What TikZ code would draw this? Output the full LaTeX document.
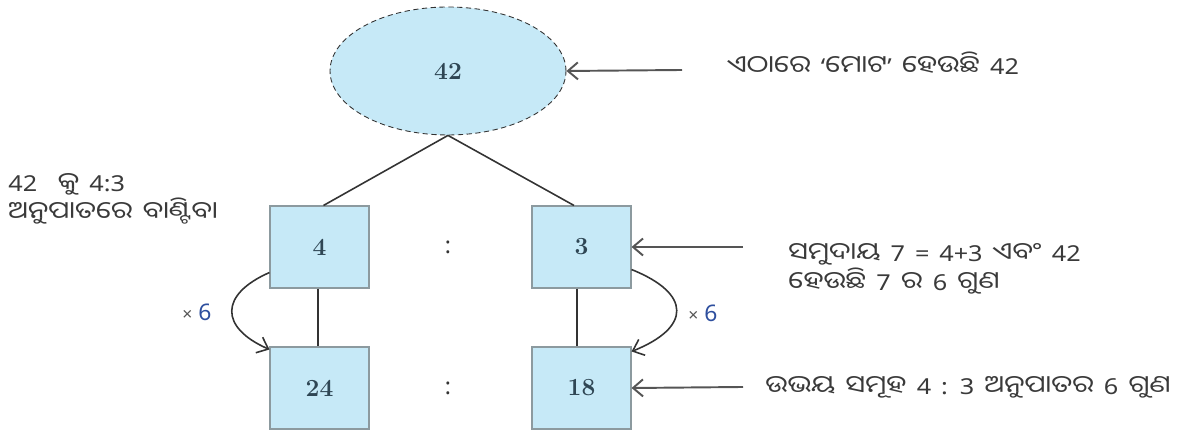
\documentclass[tikz,border=0pt]{standalone}
\usepackage{fontspec}
\newfontfamily\odiafont[Script=Oriya, FakeStretch=1.2, WordSpace=1.4]{Noto Sans Oriya UI}
\newfontfamily\latnfont[FakeStretch=1.15, WordSpace=1.5]{Noto Sans}
\newfontfamily\factorfont{Noto Sans}
\newcommand{\latn}[1]{{\latnfont\fontsize{12.5}{14}\selectfont #1}}
\usepackage{xcolor}
\definecolor{boxBlue}{HTML}{C6E9F7}
\definecolor{boxEdge}{HTML}{8C9A9F}
\definecolor{numText}{HTML}{2F4654}
\definecolor{noteText}{HTML}{3A3A3A}
\definecolor{lineGray}{HTML}{333333}
\definecolor{arrowGray}{HTML}{555555}
\definecolor{factorBlue}{HTML}{2E4F9E}
\usetikzlibrary{
    shapes.geometric,
    arrows.meta,
    positioning,
    calc
}
\tikzset{
    % Base style for the numbers
    number base/.style={
        font=\bfseries\fontsize{14}{16}\selectfont,
        text=numText,
        inner sep=0pt,
    },
    % Whole amount - dashed ellipse
    total ellipse/.style={
        number base,
        ellipse,
        draw=lineGray,
        densely dashed,
        line width=0.5pt,
        fill=boxBlue,
        minimum width=4.72cm,
        minimum height=2.56cm,
    },
    % Parts of the ratio - plain boxes
    ratio box/.style={
        number base,
        rectangle,
        draw=boxEdge,
        line width=0.6pt,
        fill=boxBlue,
        minimum width=1.98cm,
        minimum height=1.64cm,
    },
    % Ratio sign between the boxes
    ratio sign/.style={
        font=\factorfont\fontsize{13}{15}\selectfont,
        text=lineGray,
    },
    % Plain connecting line
    link/.style={
        draw=lineGray,
        line width=0.9pt,
    },
    % Pointer arrow from a note
    arrow/.style={
        -{Straight Barb[length=2mm, width=3.4mm]},
        draw=arrowGray,
        line width=1.1pt,
    },
    % Curved times arrow
    times arrow/.style={
        -{Straight Barb[length=2mm, width=3.4mm]},
        draw=lineGray,
        line width=0.9pt,
    },
    % Label of the factor
    factor label/.style={
        font=\factorfont\fontsize{13}{15}\selectfont,
        text=factorBlue,
    },
    % Notes in Odia
    note/.style={
        font=\odiafont\fontsize{13.5}{16.5}\selectfont,
        text=noteText,
        align=left,
        inner sep=0pt,
    },
}

\begin{document}
\begin{tikzpicture}[x=0.02cm, y=0.02cm]
    \useasboundingbox (0,0) rectangle (1181,431);

    \node (total) [total ellipse] at (448,360) {42};
    \node (four) [ratio box] at (319.5,184) {4};
    \node (three) [ratio box, right=3.24cm of four] {3};
    \node (twentyfour) [ratio box, below=1.16cm of four] {24};
    \node (eighteen) [ratio box, below=1.16cm of three] {18};
    \node (colontop) [ratio sign] at ($(four)!0.49!(three)$) {:};
    \node (colonbottom) [ratio sign] at ($(twentyfour)!0.49!(eighteen)$) {:};

    \draw [link] (total.south) -- ([xshift=0.08cm]four.north);
    \draw [link] (total.south) -- ([xshift=-0.15cm]three.north);
    \draw [link] ([xshift=-0.03cm]four.south) -- ([xshift=-0.03cm]twentyfour.north);
    \draw [link] ([xshift=-0.09cm]three.south) -- ([xshift=-0.09cm]eighteen.north);

    \draw [times arrow] ([yshift=0.32cm]four.south west)
        .. controls +(-50,-22) and +(-50,22) .. ([yshift=-0.06cm]twentyfour.north west);
    \draw [times arrow] ([yshift=0.38cm]three.south east)
        .. controls +(60,-24) and +(60,24) .. ([yshift=-0.1cm]eighteen.north east);
    \node (factorleft) [factor label] at (197,119) {{\color{arrowGray}\fontsize{10}{12}\selectfont ×} 6};
    \node (factorright) [factor label] at (703,118) {{\color{arrowGray}\fontsize{10}{12}\selectfont ×} 6};

    % notes and their pointers
    \coordinate (totaltail) at (682,361);
    \coordinate (sumtail) at (743,184);
    \coordinate (bothtail) at (743,44);
    \draw [arrow] (totaltail) -- (total.east);
    \draw [arrow] (sumtail) -- (three.east);
    \draw [arrow] (bothtail) -- (eighteen.east);

    \node (totalnote) [note, anchor=base west] at (727,356)
        {ଏଠାରେ \latn{‘}ମୋଟ\latn{’} ହେଉଛି \latn{42}};
    \node (splitnote) [note, anchor=west] at (8,232)
        {\latn{42}\ \ କୁ \latn{4:3}\\ଅନୁପାତରେ ବାଣ୍ଟିବା};
    \node (sumnote) [note, anchor=west] at (788,162)
        {ସମୁଦାୟ \latn{7 = 4+3} ଏବଂ \latn{42}\\ହେଉଛି \latn{7} ର \latn{6} ଗୁଣ};
    \node (bothnote) [note, anchor=base west] at (765,36)
        {ଉଭୟ ସମୂହ \latn{4 : 3} ଅନୁପାତର \latn{6} ଗୁଣ};
\end{tikzpicture}
\end{document}
